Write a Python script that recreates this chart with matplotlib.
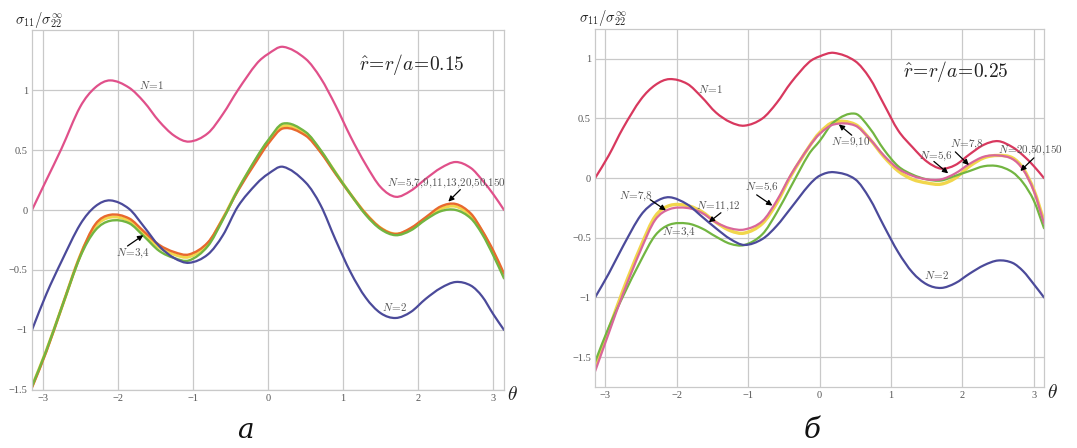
################################################################################
# Import
import numpy as np
import matplotlib
matplotlib.use("Agg")
import matplotlib.pyplot as plt
from matplotlib.path import Path
from matplotlib.patches import PathPatch


################################################################################
# data (theta in radians)
theta = [-np.pi, -2.95, -2.75, -2.5, -2.3, -2.1, -1.85, -1.65, -1.45, -1.25,
         -1.05, -0.8, -0.6, -0.4, -0.15, 0.0, 0.2, 0.5, 0.7, 0.9, 1.1, 1.3,
         1.5, 1.7, 1.9, 2.1, 2.3, 2.5, 2.7, 2.85, 3.0, np.pi]

# panel a: r/a = 0.15
a_n1 = [0.0, 0.25, 0.51, 0.86, 1.02, 1.08, 1.02, 0.90, 0.74, 0.62,
        0.57, 0.64, 0.80, 1.00, 1.22, 1.30, 1.36, 1.26, 1.10, 0.87, 0.61, 0.38,
        0.19, 0.11, 0.16, 0.26, 0.35, 0.40, 0.35, 0.25, 0.13, 0.0]
a_n2 = [-1.0, -0.70, -0.43, -0.12, 0.03, 0.08, 0.01, -0.14, -0.30, -0.40,
        -0.44, -0.37, -0.21, 0.03, 0.22, 0.30, 0.36, 0.23, 0.04, -0.25, -0.52, -0.73,
        -0.86, -0.90, -0.85, -0.74, -0.65, -0.60, -0.63, -0.72, -0.87, -1.0]
a_n34 = [-1.47, -1.17, -0.82, -0.39, -0.17, -0.09, -0.11, -0.22, -0.34, -0.40,
         -0.42, -0.30, -0.08, 0.17, 0.44, 0.58, 0.72, 0.65, 0.50, 0.31, 0.13, -0.04,
         -0.16, -0.21, -0.17, -0.08, -0.01, 0.00, -0.07, -0.20, -0.38, -0.57]
a_mid = [-1.47, -1.17, -0.82, -0.38, -0.14, -0.06, -0.09, -0.20, -0.31, -0.37,
         -0.39, -0.28, -0.07, 0.17, 0.43, 0.57, 0.70, 0.64, 0.49, 0.31, 0.13, -0.03,
         -0.15, -0.20, -0.16, -0.07, 0.01, 0.03, -0.05, -0.18, -0.36, -0.55]
a_high = [-1.48, -1.18, -0.82, -0.38, -0.12, -0.04, -0.07, -0.18, -0.29, -0.35,
          -0.37, -0.27, -0.07, 0.16, 0.41, 0.55, 0.68, 0.62, 0.48, 0.30, 0.13, -0.03,
          -0.15, -0.20, -0.15, -0.06, 0.03, 0.05, -0.03, -0.17, -0.34, -0.53]

# panel b: r/a = 0.25
b_n1 = [0.0, 0.19, 0.42, 0.66, 0.78, 0.83, 0.79, 0.68, 0.55, 0.47,
        0.44, 0.50, 0.63, 0.80, 0.97, 1.02, 1.05, 0.98, 0.84, 0.62, 0.40, 0.26,
        0.14, 0.08, 0.11, 0.20, 0.28, 0.31, 0.26, 0.19, 0.10, 0.0]
b_n2 = [-1.0, -0.80, -0.57, -0.31, -0.20, -0.16, -0.22, -0.32, -0.42, -0.51,
        -0.56, -0.51, -0.40, -0.25, -0.06, 0.02, 0.05, -0.01, -0.17, -0.40, -0.62, -0.79,
        -0.89, -0.92, -0.88, -0.80, -0.73, -0.69, -0.71, -0.78, -0.89, -1.0]
b_n34 = [-1.54, -1.25, -0.99, -0.69, -0.48, -0.39, -0.38, -0.42, -0.49, -0.55,
         -0.56, -0.47, -0.29, -0.07, 0.20, 0.31, 0.47, 0.54, 0.42, 0.24, 0.10, 0.03,
         -0.01, -0.02, 0.02, 0.06, 0.10, 0.10, 0.05, -0.04, -0.19, -0.42]
b_n56 = [-1.58, -1.27, -0.94, -0.57, -0.32, -0.23, -0.23, -0.28, -0.37, -0.44,
         -0.46, -0.38, -0.21, 0.02, 0.26, 0.38, 0.47, 0.45, 0.33, 0.18, 0.06, -0.01,
         -0.04, -0.05, 0.00, 0.10, 0.17, 0.19, 0.17, 0.08, -0.10, -0.36]
b_high = [-1.62, -1.30, -0.97, -0.60, -0.35, -0.26, -0.25, -0.29, -0.37, -0.42,
          -0.43, -0.36, -0.19, 0.03, 0.26, 0.37, 0.45, 0.44, 0.33, 0.19, 0.08, 0.02,
          -0.01, -0.01, 0.04, 0.12, 0.18, 0.19, 0.16, 0.07, -0.11, -0.38]

x_ticks = [-3, -2, -1, 0, 1, 2, 3]
a_yticks = [-1.5, -1, -0.5, 0, 0.5, 1]
b_yticks = [-1.5, -1, -0.5, 0, 0.5, 1]

# labels: (text, text_xy, arrow_tail, arrow_tip)
a_labels = [
    ("1", (-1.55, 1.04), None, None),
    ("2", (1.68, -0.81), None, None),
    ("3,4", (-1.80, -0.36), (-1.87, -0.30), (-1.66, -0.21)),
    ("5,7,9,11,13,20,50,150", (2.38, 0.22), (2.56, 0.17), (2.40, 0.07)),
]
b_labels = [
    ("1", (-1.53, 0.75), None, None),
    ("2", (1.64, -0.81), None, None),
    ("3,4", (-1.96, -0.45), None, None),
    ("7,8", (-2.57, -0.15), (-2.37, -0.18), (-2.15, -0.27)),
    ("11,12", (-1.42, -0.24), (-1.38, -0.29), (-1.55, -0.37)),
    ("5,6", (-0.81, -0.08), (-0.88, -0.14), (-0.66, -0.23)),
    ("9,10", (0.43, 0.30), (0.45, 0.36), (0.27, 0.45)),
    ("5,6", (1.63, 0.18), (1.60, 0.14), (1.80, 0.04)),
    ("7,8", (2.06, 0.28), (1.90, 0.22), (2.09, 0.11)),
    ("20,50,150", (2.95, 0.23), (3.00, 0.17), (2.81, 0.06)),
]

PINK = "#e0508a"
RED = "#d8385e"
BLUE = "#4b4a9a"
GREEN = "#72b541"
ORANGE = "#e8692e"
YELLOW = "#f1d64c"
MAUVE = "#d9679a"
GRID = "#c9c9c9"
TEXT = "#555555"

plt.rcParams["mathtext.fontset"] = "cm"
plt.rcParams["font.family"] = "DejaVu Serif"


################################################################################
def num_label(v):
    s = "%g" % v
    return s.replace("-", "\u2212")


# draw a smooth curve through the read points (cubic Hermite pieces as Bezier)
def smooth_curve(ax, xs, ys, color, lw):
    x = np.asarray(xs, dtype=float)
    y = np.asarray(ys, dtype=float)
    n = len(x)
    slope = np.zeros(n)
    slope[1:-1] = (y[2:] - y[:-2]) / (x[2:] - x[:-2])
    slope[0] = (y[1] - y[0]) / (x[1] - x[0])
    slope[-1] = (y[-1] - y[-2]) / (x[-1] - x[-2])
    verts = [(x[0], y[0])]
    codes = [Path.MOVETO]
    for i in range(n - 1):
        h = x[i + 1] - x[i]
        verts += [(x[i] + h / 3, y[i] + slope[i] * h / 3),
                  (x[i + 1] - h / 3, y[i + 1] - slope[i + 1] * h / 3),
                  (x[i + 1], y[i + 1])]
        codes += [Path.CURVE4] * 3
    patch = PathPatch(Path(verts, codes), facecolor="none", edgecolor=color,
                      lw=lw, capstyle="round", joinstyle="round")
    ax.add_patch(patch)


def setup_axes(ax, ylim, yticks):
    ax.set_xlim(-np.pi, np.pi)
    ax.set_ylim(ylim)
    ax.set_xticks(x_ticks)
    ax.set_xticklabels([num_label(t) for t in x_ticks])
    ax.set_yticks(yticks)
    ax.set_yticklabels([num_label(t) for t in yticks])
    ax.tick_params(length=0, labelsize=7.5, colors=TEXT, pad=3)
    for lab in ax.get_xticklabels() + ax.get_yticklabels():
        lab.set_fontfamily("Liberation Serif")
    ax.grid(color=GRID, linewidth=0.9)
    ax.set_axisbelow(True)
    for sp in ax.spines.values():
        sp.set_color(GRID)
        sp.set_linewidth(0.9)


def put_labels(ax, labels):
    for text, xy, tail, tip in labels:
        s = r"$N\!=\!" + text.replace(",", "{,}") + "$"
        ax.text(xy[0], xy[1], s, fontsize=8, color=TEXT,
                ha="center", va="center", clip_on=False)
        if tip is not None:
            ax.annotate("", xy=tip, xytext=tail, annotation_clip=False,
                        arrowprops=dict(arrowstyle="-|>", color="black",
                                        lw=0.9, mutation_scale=8,
                                        shrinkA=0, shrinkB=0))


################################################################################
# Main
fig = plt.figure(figsize=(10.77, 4.48), dpi=100)
ax_a = fig.add_axes([0.0297, 0.1295, 0.4383, 0.8035])
ax_b = fig.add_axes([0.5525, 0.1362, 0.4169, 0.7991])

# ----- panel a ----- #
setup_axes(ax_a, (-1.5, 1.5), a_yticks)
smooth_curve(ax_a, theta, a_mid, YELLOW, 2.2)
smooth_curve(ax_a, theta, a_high, ORANGE, 1.7)
smooth_curve(ax_a, theta, a_n34, GREEN, 1.7)
smooth_curve(ax_a, theta, a_n2, BLUE, 1.6)
smooth_curve(ax_a, theta, a_n1, PINK, 1.6)
put_labels(ax_a, a_labels)
ax_a.text(1.92, 1.21, r"$\hat{r}\!=\!r/a\!=\!0.15$", fontsize=14,
          color="#222222", ha="center", va="center")

# ----- panel b ----- #
setup_axes(ax_b, (-1.75, 1.25), b_yticks)
smooth_curve(ax_b, theta, b_n56, YELLOW, 2.4)
smooth_curve(ax_b, theta, b_n34, GREEN, 1.6)
smooth_curve(ax_b, theta, b_high, MAUVE, 1.6)
smooth_curve(ax_b, theta, b_n2, BLUE, 1.6)
smooth_curve(ax_b, theta, b_n1, RED, 1.6)
put_labels(ax_b, b_labels)
ax_b.text(1.91, 0.89, r"$\hat{r}\!=\!r/a\!=\!0.25$", fontsize=14,
          color="#222222", ha="center", va="center")

# axis titles
sig = r"$\sigma_{11}/\sigma_{22}^{\infty}$"
fig.text(0.036, 0.955, sig, fontsize=10.5, color="#222222", ha="center", va="center")
fig.text(0.560, 0.960, sig, fontsize=10.5, color="#222222", ha="center", va="center")
fig.text(0.476, 0.118, r"$\theta$", fontsize=14, color="#222222", ha="center", va="center")
fig.text(0.977, 0.123, r"$\theta$", fontsize=14, color="#222222", ha="center", va="center")

# subfigure letters
fig.text(0.228, 0.04, "\u0430", fontsize=20, style="italic", family="DejaVu Serif",
         color="#111111", ha="center", va="center")
fig.text(0.754, 0.04, "\u0431", fontsize=20, style="italic", family="DejaVu Serif",
         color="#111111", ha="center", va="center")

fig.savefig("out.png", dpi=100, facecolor="white")
